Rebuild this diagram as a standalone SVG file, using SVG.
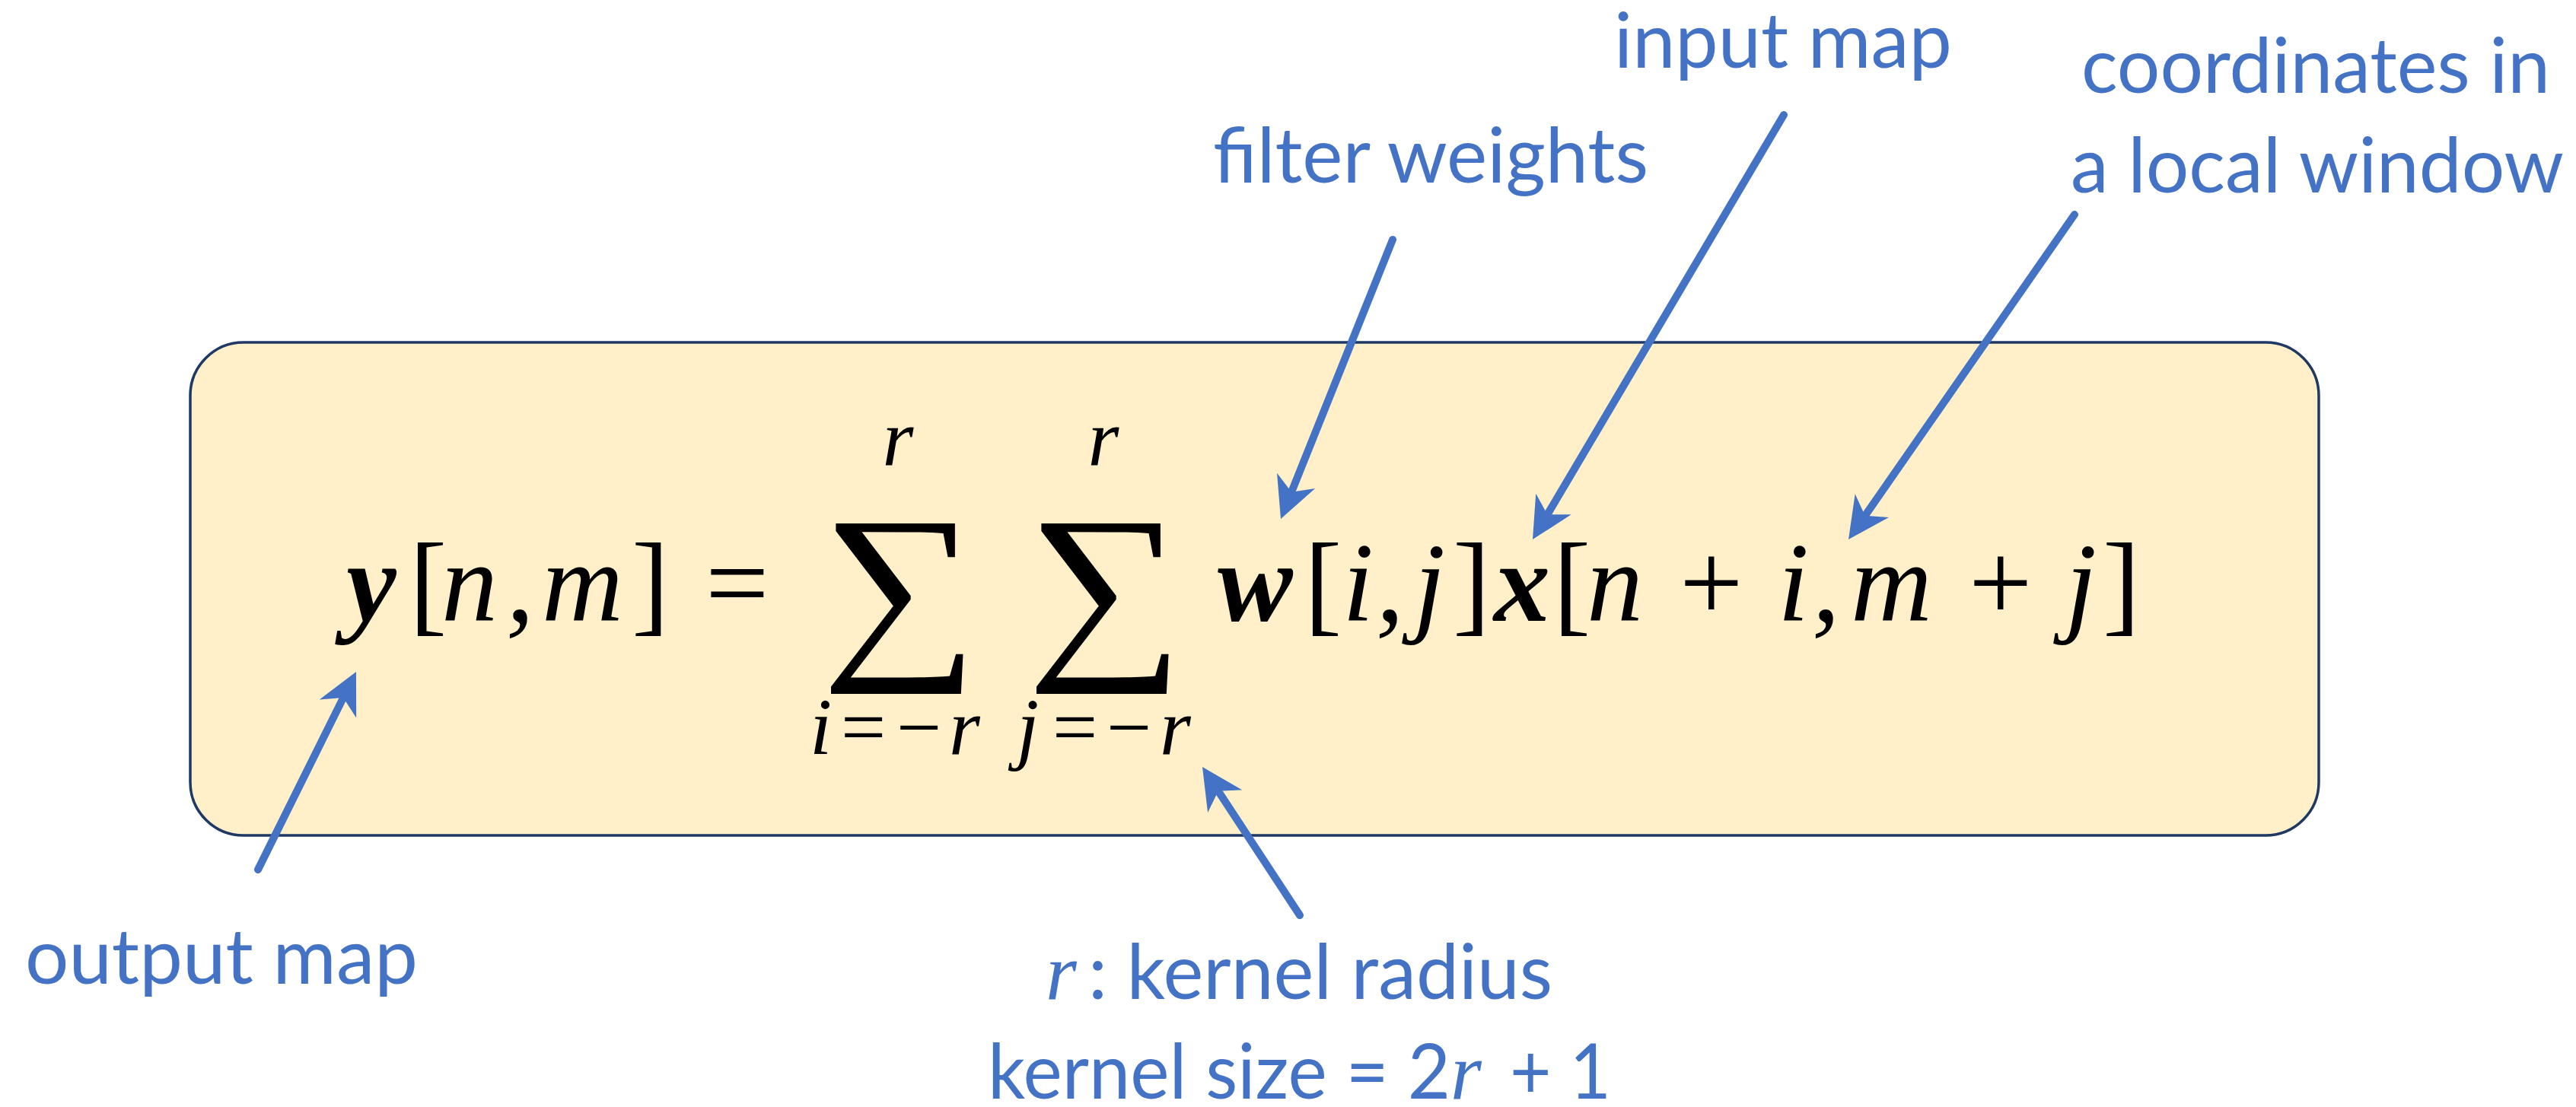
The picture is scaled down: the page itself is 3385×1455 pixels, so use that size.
<svg xmlns="http://www.w3.org/2000/svg" width="3385" height="1455" viewBox="0 0 3385 1455">
<defs>
<style>
.eq{font-family:"Liberation Serif","Times New Roman",serif;font-style:italic;font-size:148px;fill:#000}
.up{font-style:normal}
.b{font-weight:bold}
.lim{font-family:"Liberation Serif","Times New Roman",serif;font-style:italic;font-size:105px;fill:#000}
.sig{font-family:"Liberation Serif","Times New Roman",serif;font-size:290px;fill:#000}
.lbl{font-family:Lato,"Open Sans",sans-serif;font-size:100px;fill:#4472C4}
.lr{font-family:"Liberation Serif","Times New Roman",serif;font-style:italic;font-size:105px;fill:#4472C4}
.arr{stroke:#4472C4;stroke-width:10;stroke-linecap:round;fill:none;marker-end:url(#ah)}
</style>
<marker id="ah" markerUnits="userSpaceOnUse" viewBox="-60 -30 60 60" markerWidth="60" markerHeight="60" refX="-35" refY="0" orient="auto">
<path d="M0,0 L-54,-27 L-38,0 L-54,27 Z" fill="#4472C4"/>
</marker>
</defs>
<rect width="3385" height="1455" fill="#fff"/>
<g id="formula-box">
<rect x="250" y="450" width="2797" height="648" rx="70" ry="70" fill="#FFF0C9" stroke="#1F3864" stroke-width="3.5"/>
<text class="eq" y="816"><tspan class="b" x="455">y</tspan><tspan class="up" x="538">[</tspan><tspan x="580">n</tspan><tspan x="665">,</tspan><tspan x="712">m</tspan><tspan class="up" x="830">]</tspan><tspan class="up" x="927">=</tspan><tspan class="b" x="1600">w</tspan><tspan class="up" x="1714">[</tspan><tspan x="1764">i</tspan><tspan x="1808">,</tspan><tspan x="1858">j</tspan><tspan class="up" x="1909">]</tspan><tspan class="b" x="1963">x</tspan><tspan class="up" x="2041">[</tspan><tspan x="2085">n</tspan><tspan class="up" x="2207">+</tspan><tspan x="2336">i</tspan><tspan x="2381">,</tspan><tspan x="2432">m</tspan><tspan class="up" x="2587">+</tspan><tspan x="2714">j</tspan><tspan class="up" x="2763">]</tspan></text>
<text class="sig" transform="translate(1079 857) scale(1 0.89)">∑</text>
<text class="sig" transform="translate(1349 857) scale(1 0.89)">∑</text>
<text class="lim" x="1180" y="611" text-anchor="middle">r</text>
<text class="lim" x="1450" y="611" text-anchor="middle">r</text>
<text class="lim" y="991"><tspan x="1064">i</tspan><tspan class="up" x="1105">=</tspan><tspan class="up" x="1178">−</tspan><tspan x="1247">r</tspan><tspan x="1336">j</tspan><tspan class="up" x="1383">=</tspan><tspan class="up" x="1454">−</tspan><tspan x="1524">r</tspan></text>
</g>
<g id="label-output-map"><text class="lbl" x="33" y="1293" textLength="516" lengthAdjust="spacingAndGlyphs">output map</text></g>
<g id="label-filter-weights"><text class="lbl" x="1594" y="240" textLength="572" lengthAdjust="spacingAndGlyphs">filter weights</text></g>
<g id="label-input-map"><text class="lbl" x="2121" y="89" textLength="444" lengthAdjust="spacingAndGlyphs">input map</text></g>
<g id="label-coordinates"><text class="lbl" x="2735" y="122" textLength="616" lengthAdjust="spacingAndGlyphs">coordinates in</text><text class="lbl" x="2721" y="253" textLength="648" lengthAdjust="spacingAndGlyphs">a local window</text></g>
<g id="label-kernel"><text class="lr" x="1374" y="1313">r</text><text class="lbl" x="1430" y="1313" textLength="610" lengthAdjust="spacingAndGlyphs">: kernel radius</text><text class="lbl" x="1298" y="1444" textLength="608" lengthAdjust="spacingAndGlyphs">kernel size = 2</text><text class="lr" x="1906" y="1444">r</text><text class="lbl" x="1984" y="1444" textLength="133" lengthAdjust="spacingAndGlyphs">+ 1</text></g>
<g id="connectors">
<line class="arr" x1="339" y1="1143" x2="452.4" y2="914.4"/>
<line class="arr" x1="1708" y1="1203" x2="1599.2" y2="1037.3"/>
<line class="arr" x1="1830" y1="315" x2="1696" y2="649.5"/>
<line class="arr" x1="2344" y1="151" x2="2031.8" y2="678.9"/>
<line class="arr" x1="2726" y1="282" x2="2449" y2="680.3"/>
</g>
</svg>
